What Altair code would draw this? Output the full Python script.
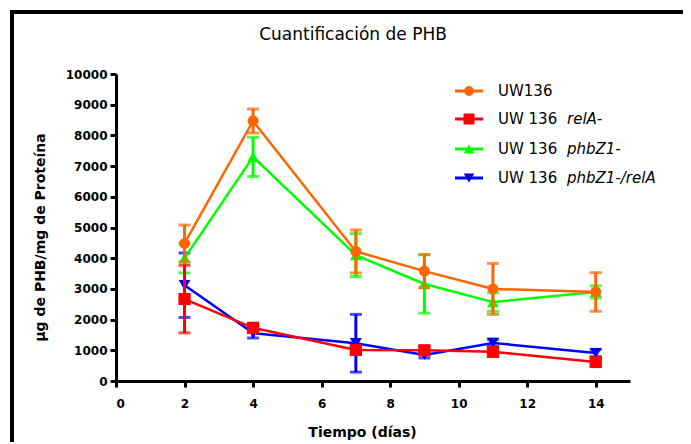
import altair as alt
import pandas as pd

days = [2, 4, 7, 9, 11, 14]
series = ["UW136", "UW 136 relA-", "UW 136 phbZ1-", "UW 136 phbZ1-/relA"]
legend_main = ["UW136", "UW 136", "UW 136", "UW 136"]
legend_italic = ["", "relA-", "phbZ1-", "phbZ1-/relA"]
chart_title = ["Cuantificación de PHB"]

uw136_mean = [4480, 8470, 4220, 3580, 3000, 2900]
uw136_err = [600, 390, 700, 540, 830, 630]
rela_mean = [2670, 1730, 1010, 1000, 950, 620]
rela_err = [1100, 120, 100, 100, 120, 100]
phbz_mean = [4000, 7300, 4100, 3160, 2570, 2900]
phbz_err = [480, 640, 700, 950, 300, 200]
dbl_mean = [3120, 1560, 1230, 850, 1240, 910]
dbl_err = [1050, 160, 940, 100, 120, 120]

colors = ["#FF6600", "#FF0000", "#00FF00", "#0000FF"]
shapes = ["circle", "square", "triangle-up", "triangle-down"]
sizes = [120, 150, 140, 140]

means = [uw136_mean, rela_mean, phbz_mean, dbl_mean]
errs = [uw136_err, rela_err, phbz_err, dbl_err]

FONT = "DejaVu Sans"

X = alt.X("day:Q", scale=alt.Scale(domain=[0, 15], nice=False),
          axis=alt.Axis(values=[0, 2, 4, 6, 8, 10, 12, 14], title="Tiempo (días)",
                        titleX=246, titleY=51, titleAlign="center", titleBaseline="middle",
                        grid=False, format="d"))
Y_AX = alt.Axis(values=list(range(0, 10001, 1000)), title="µg de PHB/mg de Proteína",
                titleX=-76, titleY=163, titleAngle=-90, titleAlign="center",
                titleBaseline="middle", grid=False, format="d")
YS = alt.Scale(domain=[0, 10000], nice=False)

layers = []
draw_order = [3, 2, 1, 0]
for i in draw_order:
    df = pd.DataFrame({
        "day": days,
        "mean": means[i],
        "lo": [m - e for m, e in zip(means[i], errs[i])],
        "hi": [m + e for m, e in zip(means[i], errs[i])],
    })
    c = colors[i]
    base = alt.Chart(df)
    layers.append(base.mark_rule(color=c, strokeWidth=3).encode(
        x=X, y=alt.Y("lo:Q", scale=YS, axis=Y_AX), y2="hi:Q"))
    layers.append(base.mark_tick(color=c, orient="horizontal", size=12, thickness=3).encode(
        x=X, y=alt.Y("lo:Q", scale=YS, axis=Y_AX)))
    layers.append(base.mark_tick(color=c, orient="horizontal", size=12, thickness=3).encode(
        x=X, y=alt.Y("hi:Q", scale=YS, axis=Y_AX)))
    layers.append(base.mark_line(color=c, strokeWidth=2.5).encode(
        x=X, y=alt.Y("mean:Q", scale=YS, axis=Y_AX)))
    layers.append(base.mark_point(color=c, filled=True, opacity=1, shape=shapes[i],
                                  size=sizes[i]).encode(
        x=X, y=alt.Y("mean:Q", scale=YS, axis=Y_AX)))

# legend (manual, to allow the italic part of the labels)
row_y = [17, 45, 75, 104]
for k in range(4):
    one = alt.Chart(pd.DataFrame({"a": [legend_main[k]], "b": [legend_italic[k]]}))
    layers.append(one.mark_rule(color=colors[k], strokeWidth=3).encode(
        x=alt.value(339), x2=alt.value(367), y=alt.value(row_y[k])))
    layers.append(one.mark_point(color=colors[k], filled=True, opacity=1, shape=shapes[k],
                                 size=sizes[k] * 0.8).encode(
        x=alt.value(353), y=alt.value(row_y[k])))
    layers.append(one.mark_text(align="left", baseline="middle", font=FONT, fontSize=15,
                                color="black").encode(
        x=alt.value(382), y=alt.value(row_y[k]), text="a:N"))
    if legend_italic[k]:
        layers.append(one.mark_text(align="left", baseline="middle", font=FONT, fontSize=15,
                                    fontStyle="italic", color="black").encode(
            x=alt.value(451), y=alt.value(row_y[k]), text="b:N"))

# chart title
tt = alt.Chart(pd.DataFrame({"t": chart_title}))
layers.append(tt.mark_text(align="center", baseline="middle", font=FONT, fontSize=17,
                           color="black").encode(
    x=alt.value(237), y=alt.value(-39), text="t:N"))

# cropped outer frame (left and top borders)
fr = alt.Chart(pd.DataFrame({"f": [0]}))
layers.append(fr.mark_rule(color="black", strokeWidth=4).encode(
    x=alt.value(-104), y=alt.value(-64), y2=alt.value(460)))
layers.append(fr.mark_rule(color="black", strokeWidth=4).encode(
    x=alt.value(-106), x2=alt.value(620), y=alt.value(-62)))

chart = alt.layer(*layers).properties(
    width=514, height=307,
    autosize=alt.AutoSizeParams(type="none"),
    padding={"left": 108, "top": 66, "right": 53, "bottom": 61},
).configure_axis(
    domainColor="black", domainWidth=3, tickColor="black", tickWidth=3, tickSize=6,
    labelFont=FONT, labelFontWeight="bold", labelFontSize=12, labelColor="black",
    titleFont=FONT, titleFontWeight="bold", titleFontSize=14, titleColor="black",
).configure_axisX(labelPadding=11).configure_axisY(labelPadding=3).configure_view(stroke=None)

chart.save("out.html", embed_options={"renderer": "svg", "actions": False})
